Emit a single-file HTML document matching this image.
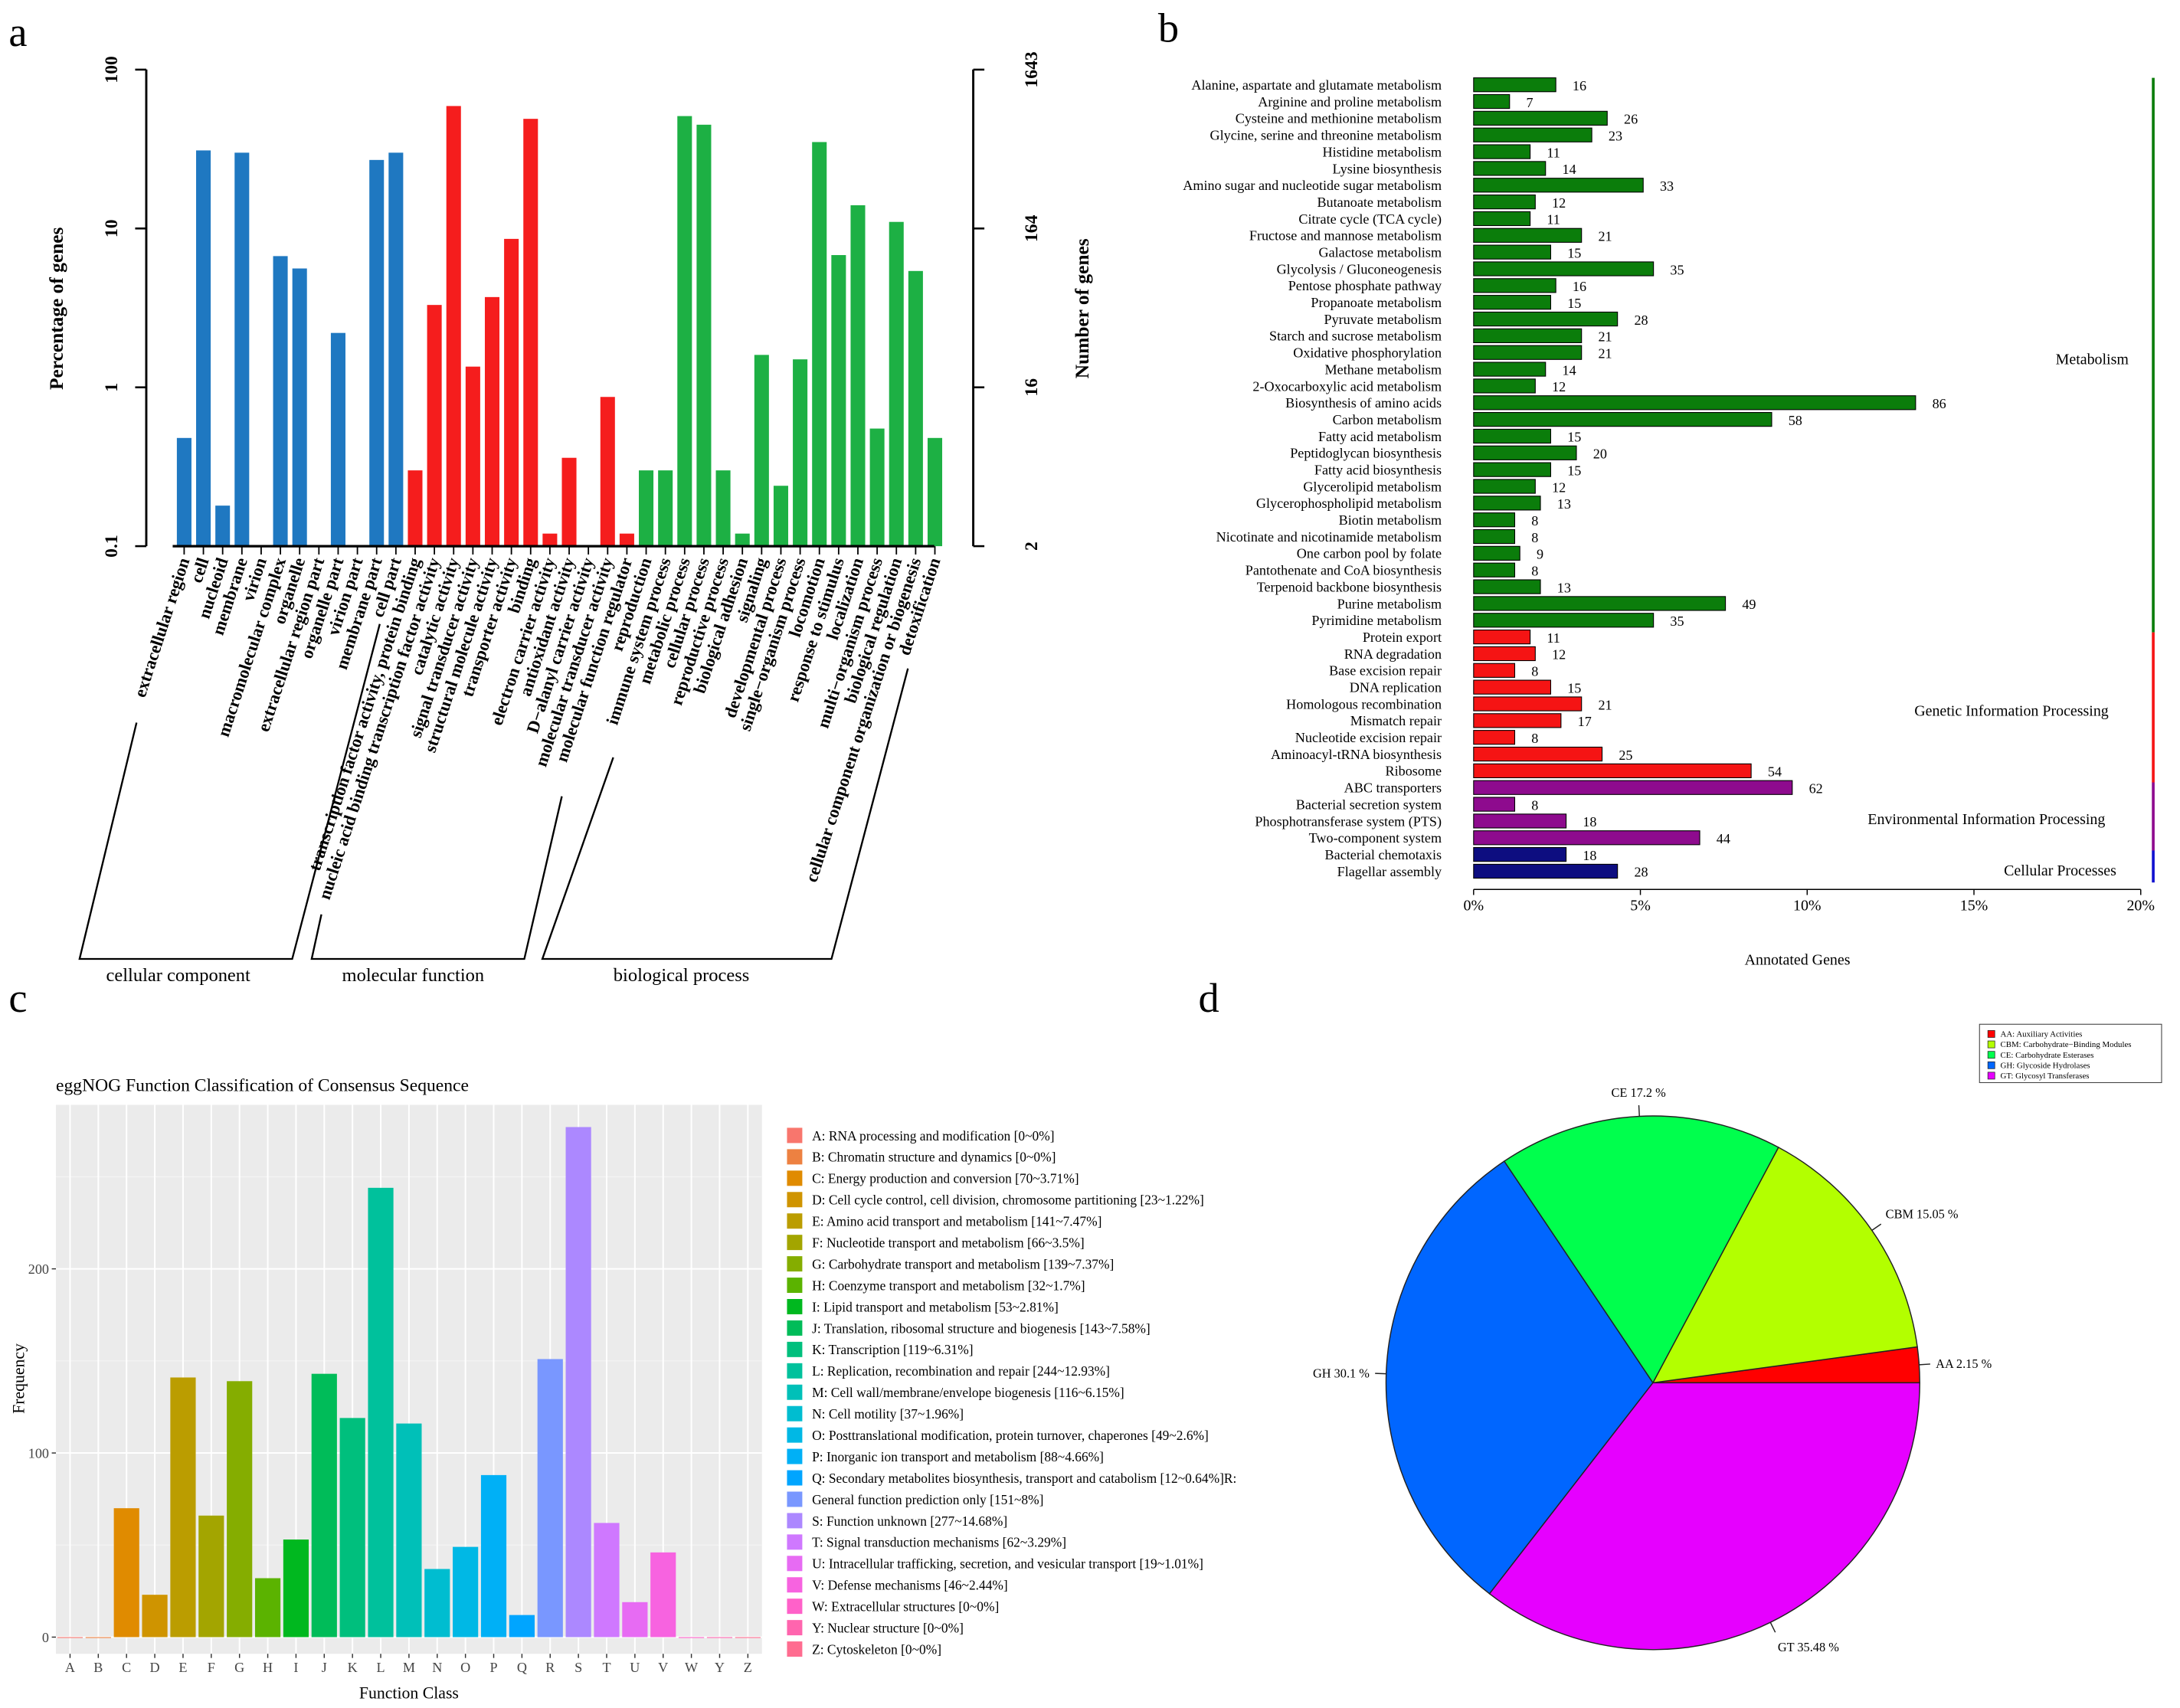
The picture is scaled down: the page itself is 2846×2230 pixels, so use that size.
<!DOCTYPE html>
<html><head><meta charset="utf-8"><style>
html,body{margin:0;padding:0;background:#fff}
svg{display:block}
text{font-family:"Liberation Serif",serif}
</style></head><body>
<svg id="fig" xmlns="http://www.w3.org/2000/svg" width="2846" height="2230" viewBox="0 0 1568 1229">
<rect width="1568" height="1229" fill="#fff"/>
<g id="pa"></g>
<g id="pb"></g>
<g id="pc"></g>
<g id="pd"></g>
<text x="6" y="33" font-size="30">a</text>
<text x="833" y="30" font-size="30">b</text>
<text x="6" y="728" font-size="30">c</text>
<text x="862" y="728" font-size="30">d</text>
</svg>
<script>
const NS="http://www.w3.org/2000/svg";
function mk(p,t,a,txt){const e=document.createElementNS(NS,t);for(const k in a)e.setAttribute(k,a[k]);if(txt!==undefined)e.textContent=txt;p.appendChild(e);return e;}

// ===== Panel A data =====
const goTerms=["extracellular region","cell","nucleoid","membrane","virion","macromolecular complex","organelle","extracellular region part","organelle part","virion part","membrane part","cell part",
"transcription factor activity, protein binding","nucleic acid binding transcription factor activity","catalytic activity","signal transducer activity","structural molecule activity","transporter activity","binding","electron carrier activity","antioxidant activity","D\u2212alanyl carrier activity","molecular transducer activity","molecular function regulator",
"reproduction","immune system process","metabolic process","cellular process","reproductive process","biological adhesion","signaling","developmental process","single\u2212organism process","locomotion","response to stimulus","localization","multi\u2212organism process","biological regulation","cellular component organization or biogenesis","detoxification"];
const goPercent=[0.48,31,0.18,30,0,6.7,5.6,0,2.2,0,27,30,
0.3,3.3,59,1.35,3.7,8.6,49,0.12,0.36,0,0.87,0.12,
0.3,0.3,51,45,0.3,0.12,1.6,0.24,1.5,35,6.8,14,0.55,11,5.4,0.48];
const goGroup=[0,0,0,0,0,0,0,0,0,0,0,0,1,1,1,1,1,1,1,1,1,1,1,1,2,2,2,2,2,2,2,2,2,2,2,2,2,2,2,2];
const goGroupNames=["cellular component","molecular function","biological process"];
const goLeftTicks=[0.1,1,10,100];
const goRightTicks=["2","16","164","1643"];
(function(){
 const g=document.getElementById('pa');
 const colors=["#1f78c1","#f51d1d","#1db044"];
 const y=v=>393-(Math.log10(v)+1)*114.3;
 const x0=127,step=13.85,bw=10.5;
 mk(g,'line',{x1:105,y1:50,x2:105,y2:393,stroke:'#000','stroke-width':1.6});
 mk(g,'line',{x1:700,y1:50,x2:700,y2:393,stroke:'#000','stroke-width':1.6});
 goLeftTicks.forEach((v,i)=>{const yy=y(v);
  mk(g,'line',{x1:97,y1:yy,x2:105,y2:yy,stroke:'#000','stroke-width':1.4});
  const t=mk(g,'text',{x:0,y:0,'font-size':13,'font-weight':'bold','text-anchor':'middle',transform:`translate(84,${yy}) rotate(-90)`},String(v));
  
  mk(g,'line',{x1:700,y1:yy,x2:708,y2:yy,stroke:'#000','stroke-width':1.4});
  const t2=mk(g,'text',{x:0,y:0,'font-size':13,'font-weight':'bold','text-anchor':'middle',transform:`translate(746,${yy}) rotate(-90)`},goRightTicks[i]);
  
 });
 const yl=mk(g,'text',{'font-size':14,'font-weight':'bold','text-anchor':'middle',transform:'translate(45,222) rotate(-90)'},'Percentage of genes');
 
 const yr=mk(g,'text',{'font-size':14,'font-weight':'bold','text-anchor':'middle',transform:'translate(783,222) rotate(-90)'},'Number of genes');
 
 goTerms.forEach((name,i)=>{
  const cx=x0+i*step+bw/2;const v=goPercent[i];
  if(v>0){const r=mk(g,'rect',{x:x0+i*step,y:y(v),width:bw,height:393-y(v),fill:colors[goGroup[i]]});
   }
  mk(g,'line',{x1:cx,y1:393,x2:cx,y2:399,stroke:'#000','stroke-width':1});
  const t=mk(g,'text',{'font-size':12.5,'font-weight':'bold','text-anchor':'end',transform:`translate(${cx+4},${403}) rotate(-72)`},name);
  
 });
 mk(g,'line',{x1:124,y1:393,x2:672,y2:393,stroke:'#000','stroke-width':1.8});
 const br=[[[98,520],[57,690],[210,690],[273,449]],[[231,658],[224,690],[377,690],[404,573]],[[441,545],[390,690],[598,690],[653,481]]];
 const gl=[128,297,490];
 br.forEach((p,i)=>{mk(g,'polyline',{points:p.map(q=>q.join(',')).join(' '),fill:'none',stroke:'#000','stroke-width':1.3});
  const t=mk(g,'text',{x:gl[i],y:706,'font-size':13.5,'text-anchor':'middle'},goGroupNames[i]);
  });
})();

// ===== Panel B data =====
const keggPathways=["Alanine, aspartate and glutamate metabolism","Arginine and proline metabolism","Cysteine and methionine metabolism","Glycine, serine and threonine metabolism","Histidine metabolism","Lysine biosynthesis","Amino sugar and nucleotide sugar metabolism","Butanoate metabolism","Citrate cycle (TCA cycle)","Fructose and mannose metabolism","Galactose metabolism","Glycolysis / Gluconeogenesis","Pentose phosphate pathway","Propanoate metabolism","Pyruvate metabolism","Starch and sucrose metabolism","Oxidative phosphorylation","Methane metabolism","2-Oxocarboxylic acid metabolism","Biosynthesis of amino acids","Carbon metabolism","Fatty acid metabolism","Peptidoglycan biosynthesis","Fatty acid biosynthesis","Glycerolipid metabolism","Glycerophospholipid metabolism","Biotin metabolism","Nicotinate and nicotinamide metabolism","One carbon pool by folate","Pantothenate and CoA biosynthesis","Terpenoid backbone biosynthesis","Purine metabolism","Pyrimidine metabolism","Protein export","RNA degradation","Base excision repair","DNA replication","Homologous recombination","Mismatch repair","Nucleotide excision repair","Aminoacyl-tRNA biosynthesis","Ribosome","ABC transporters","Bacterial secretion system","Phosphotransferase system (PTS)","Two-component system","Bacterial chemotaxis","Flagellar assembly"];
const keggCounts=[16,7,26,23,11,14,33,12,11,21,15,35,16,15,28,21,21,14,12,86,58,15,20,15,12,13,8,8,9,8,13,49,35,11,12,8,15,21,17,8,25,54,62,8,18,44,18,28];
const keggClass=[0,0,0,0,0,0,0,0,0,0,0,0,0,0,0,0,0,0,0,0,0,0,0,0,0,0,0,0,0,0,0,0,0,1,1,1,1,1,1,1,1,1,2,2,2,2,3,3];
const keggClassNames=["Metabolism","Genetic Information Processing","Environmental Information Processing","Cellular Processes"];
const keggTicks=[0,5,10,15,20];
const keggTotal=649;
(function(){
 const g=document.getElementById('pb');
 const cols=["#0b7d0b","#f51414","#8e0b8e","#0d0d80"];
 const X=p=>1060+p*24;
 const rowY=i=>61+i*12.04;
 keggPathways.forEach((n,i)=>{
  const pct=keggCounts[i]/keggTotal*100;const yy=rowY(i);
  const r=mk(g,'rect',{x:1060,y:yy-5,width:X(pct)-1060,height:10,fill:cols[keggClass[i]],stroke:'#000','stroke-width':0.6});
  
  const l=mk(g,'text',{x:1037,y:yy+3.5,'font-size':10,'text-anchor':'end'},n);
  
  const v=mk(g,'text',{x:X(pct)+12,y:yy+4,'font-size':10},String(keggCounts[i]));
  
 });
 mk(g,'line',{x1:1060,y1:640,x2:1540,y2:640,stroke:'#000','stroke-width':0.8});
 keggTicks.forEach(t=>{mk(g,'line',{x1:X(t),y1:640,x2:X(t),y2:644,stroke:'#000','stroke-width':0.8});
  const l=mk(g,'text',{x:X(t),y:655,'font-size':11,'text-anchor':'middle','font-family':'Liberation Sans, sans-serif'},t+'%');
  });
 const at=mk(g,'text',{x:1293,y:694,'font-size':11,'text-anchor':'middle','font-family':'Liberation Sans, sans-serif'},'Annotated Genes');
 
 const seg=[[56,455],[455,563],[563,612],[612,635]];
 const lab=[[1505,262],[1447,515],[1429,593],[1482,630]];
 seg.forEach((s,i)=>{mk(g,'line',{x1:1549,y1:s[0],x2:1549,y2:s[1],stroke:cols[i]==="#0d0d80"?"#1010d0":cols[i],'stroke-width':2});
  const t=mk(g,'text',{x:lab[i][0],y:lab[i][1],'font-size':11,'text-anchor':'middle'},keggClassNames[i]);
  });
})();

// ===== Panel C data =====
const cogLetters=["A","B","C","D","E","F","G","H","I","J","K","L","M","N","O","P","Q","R","S","T","U","V","W","Y","Z"];
const cogFreq=[0,0,70,23,141,66,139,32,53,143,119,244,116,37,49,88,12,151,277,62,19,46,0,0,0];
const cogYTicks=[0,100,200];
const cogLegend=["A: RNA processing and modification [0~0%]","B: Chromatin structure and dynamics [0~0%]","C: Energy production and conversion [70~3.71%]","D: Cell cycle control, cell division, chromosome partitioning [23~1.22%]","E: Amino acid transport and metabolism [141~7.47%]","F: Nucleotide transport and metabolism [66~3.5%]","G: Carbohydrate transport and metabolism [139~7.37%]","H: Coenzyme transport and metabolism [32~1.7%]","I: Lipid transport and metabolism [53~2.81%]","J: Translation, ribosomal structure and biogenesis [143~7.58%]","K: Transcription [119~6.31%]","L: Replication, recombination and repair [244~12.93%]","M: Cell wall/membrane/envelope biogenesis [116~6.15%]","N: Cell motility [37~1.96%]","O: Posttranslational modification, protein turnover, chaperones [49~2.6%]","P: Inorganic ion transport and metabolism [88~4.66%]","Q: Secondary metabolites biosynthesis, transport and catabolism [12~0.64%]R:","General function prediction only [151~8%]","S: Function unknown [277~14.68%]","T: Signal transduction mechanisms [62~3.29%]","U: Intracellular trafficking, secretion, and vesicular transport [19~1.01%]","V: Defense mechanisms [46~2.44%]","W: Extracellular structures [0~0%]","Y: Nuclear structure [0~0%]","Z: Cytoskeleton [0~0%]"];
(function(){
 const g=document.getElementById('pc');
 function hcl(h,c,l){h=h*Math.PI/180;const L=l,a=Math.cos(h)*c,b=Math.sin(h)*c;
  const Xn=0.95047,Yn=1,Zn=1.08883;const un=4*Xn/(Xn+15*Yn+3*Zn),vn=9*Yn/(Xn+15*Yn+3*Zn);
  const Y=L>8?Math.pow((L+16)/116,3):L/903.3;const u=a/(13*L)+un,v=b/(13*L)+vn;
  const X=Y*9*u/(4*v),Z=Y*(12-3*u-20*v)/(4*v);
  let r=3.2406*X-1.5372*Y-0.4986*Z,gg=-0.9689*X+1.8758*Y+0.0415*Z,bb=0.0557*X-0.2040*Y+1.0570*Z;
  const f=x=>{x=x<=0.0031308?12.92*x:1.055*Math.pow(x,1/2.4)-0.055;return Math.round(Math.max(0,Math.min(1,x))*255);};
  return `rgb(${f(r)},${f(gg)},${f(bb)})`;}
 const n=cogLetters.length;const colors=cogLetters.map((_,i)=>hcl(15+i*360/n,100,65));
 const px0=40,px1=548,py0=795,py1=1190;
 mk(g,'rect',{x:px0,y:py0,width:px1-px0,height:py1-py0,fill:'#ebebeb'});
 const Y=v=>1178-v*1.325;const step=(px1-px0)/n;const X=i=>px0+step*(i+0.5);
 [50,150,250].forEach(v=>mk(g,'line',{x1:px0,y1:Y(v),x2:px1,y2:Y(v),stroke:'#f5f5f5','stroke-width':0.6}));
 cogYTicks.forEach(v=>{mk(g,'line',{x1:px0,y1:Y(v),x2:px1,y2:Y(v),stroke:'#fff','stroke-width':1.1});
  mk(g,'line',{x1:px0-3,y1:Y(v),x2:px0,y2:Y(v),stroke:'#333','stroke-width':0.8});
  const t=mk(g,'text',{x:px0-5,y:Y(v)+3.5,'font-size':10,'text-anchor':'end',fill:'#444'},String(v));
  });
 cogLetters.forEach((L,i)=>mk(g,'line',{x1:X(i),y1:py0,x2:X(i),y2:py1,stroke:'#fff','stroke-width':1.1}));
 cogLetters.forEach((L,i)=>{const v=cogFreq[i];
  const r=mk(g,'rect',{x:X(i)-step*0.45,y:Y(v),width:step*0.9,height:Math.max(0.6,Y(0)-Y(v)),fill:colors[i]});
  
  mk(g,'line',{x1:X(i),y1:py1,x2:X(i),y2:py1+3,stroke:'#333','stroke-width':0.8});
  const t=mk(g,'text',{x:X(i),y:py1+13,'font-size':10,'text-anchor':'middle',fill:'#444'},L);
  });
 const ti=mk(g,'text',{x:40,y:785,'font-size':13},'eggNOG Function Classification of Consensus Sequence');
 
 const xt=mk(g,'text',{x:294,y:1222,'font-size':12,'text-anchor':'middle'},'Function Class');
 
 const yt=mk(g,'text',{'font-size':12,'text-anchor':'middle',transform:'translate(17,992) rotate(-90)'},'Frequency');
 
 cogLegend.forEach((s,i)=>{const yy=817+i*15.4;
  const r=mk(g,'rect',{x:566,y:yy-5.5,width:11,height:11,fill:colors[i]});
  
  const t=mk(g,'text',{x:584,y:yy+3.5,'font-size':9.6},s);
  });
})();

// ===== Panel D data =====
const cazyClasses=["AA","CBM","CE","GH","GT"];
const cazyPercent=[2.15,15.05,17.2,30.1,35.48];
const cazyLegend=["AA: Auxiliary Activities","CBM: Carbohydrate\u2212Binding Modules","CE: Carbohydrate Esterases","GH: Glycoside Hydrolases","GT: Glycosyl Transferases"];
(function(){
 const g=document.getElementById('pd');
 const cols=["#ff0000","#b3ff00","#00ff4d","#0066ff","#e600ff"];
 const cx=1189,cy=995,R=192;const tot=cazyPercent.reduce((a,b)=>a+b,0);
 let a0=0;
 cazyPercent.forEach((p,i)=>{const a1=a0+p/tot*2*Math.PI;
  const x0=cx+R*Math.cos(a0),y0=cy-R*Math.sin(a0),x1=cx+R*Math.cos(a1),y1=cy-R*Math.sin(a1);
  const large=(a1-a0)>Math.PI?1:0;
  const s=mk(g,'path',{d:`M${cx},${cy} L${x0},${y0} A${R},${R} 0 ${large} 0 ${x1},${y1} Z`,fill:cols[i],stroke:'#222','stroke-width':0.8});
  
  const am=(a0+a1)/2;const ex=cx+(R+8)*Math.cos(am),ey=cy-(R+8)*Math.sin(am);
  mk(g,'line',{x1:cx+R*Math.cos(am),y1:cy-R*Math.sin(am),x2:ex,y2:ey,stroke:'#222','stroke-width':0.8});
  const lx=cx+(R+12)*Math.cos(am),ly=cy-(R+12)*Math.sin(am);
  const anchor=Math.cos(am)>0.3?'start':(Math.cos(am)<-0.3?'end':'middle');
  const t=mk(g,'text',{x:lx,y:ly+(Math.sin(am)>0.3?-2:(Math.sin(am)<-0.3?10:3)),'font-size':9,'text-anchor':anchor},cazyClasses[i]+'  '+p+' %');
  
  a0=a1;});
 mk(g,'rect',{x:1424,y:737,width:131,height:42,fill:'#fff',stroke:'#444','stroke-width':0.6});
 cazyLegend.forEach((s,i)=>{const yy=744+i*7.5;
  mk(g,'rect',{x:1430,y:yy-2.5,width:5,height:5,fill:cols[i],stroke:'#222','stroke-width':0.4});
  const t=mk(g,'text',{x:1439,y:yy+2,'font-size':6},s);
  });
})();
</script>
</body></html>
